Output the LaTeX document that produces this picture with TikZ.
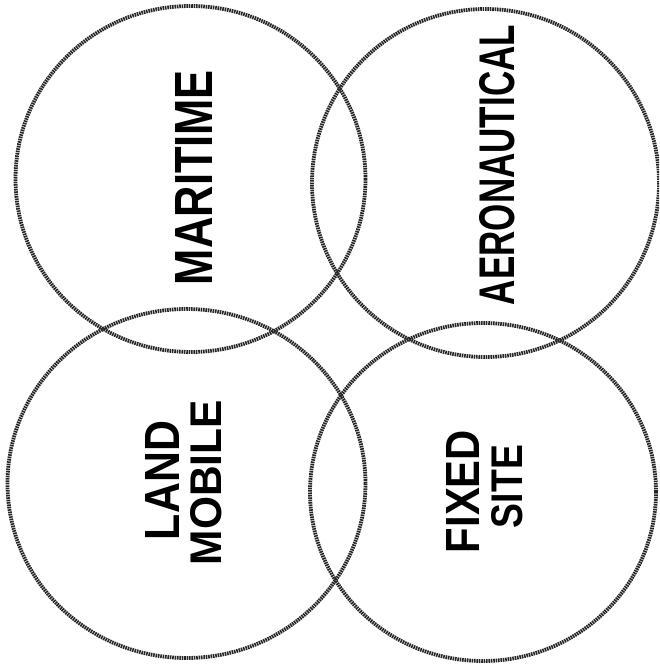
\documentclass[tikz,border=0pt]{standalone}
\usepackage{fontspec}
\setmainfont{Liberation Sans}
\usepackage{graphicx}
\tikzset{
  ring/.style={draw=black!85, line width=3.8pt, dash pattern=on 1.6pt off 0.8pt},
  lbl/.style={rotate=90, inner sep=0pt, font=\bfseries}
}
\newcommand{\fitword}[3]{\resizebox{#1pt}{#2pt}{#3}}
\begin{document}
\begin{tikzpicture}[x=1pt,y=-1pt]
\useasboundingbox (0,0) rectangle (659,666);
\begin{scope}
\clip (0,0) rectangle (659,666);
% circles
\draw[ring] (190.5,179) ellipse [x radius=175, y radius=173];
\draw[ring] (485.5,183) ellipse [x radius=173.5, y radius=174];
\draw[ring] (186.5,483.5) ellipse [x radius=179, y radius=174.5];
\draw[ring] (483,492) ellipse [x radius=173, y radius=169];
\end{scope}
% labels
\node[lbl] (maritime) at (193.5,177.5) {\fitword{215}{37}{MARITIME}};
\node[lbl] (aero) at (497,165) {\fitword{280}{35}{AERONAUTICAL}};
\node[lbl] (land) at (162,480.5) {\fitword{119}{34}{LAND}};
\node[lbl] (mobile) at (206,482.5) {\fitword{165}{31}{MOBILE}};
\node[lbl] (fixed) at (462.5,491.5) {\fitword{123}{33}{FIXED}};
\node[lbl] (site) at (507.5,486.5) {\fitword{83}{31}{SITE}};
\end{tikzpicture}
\end{document}
